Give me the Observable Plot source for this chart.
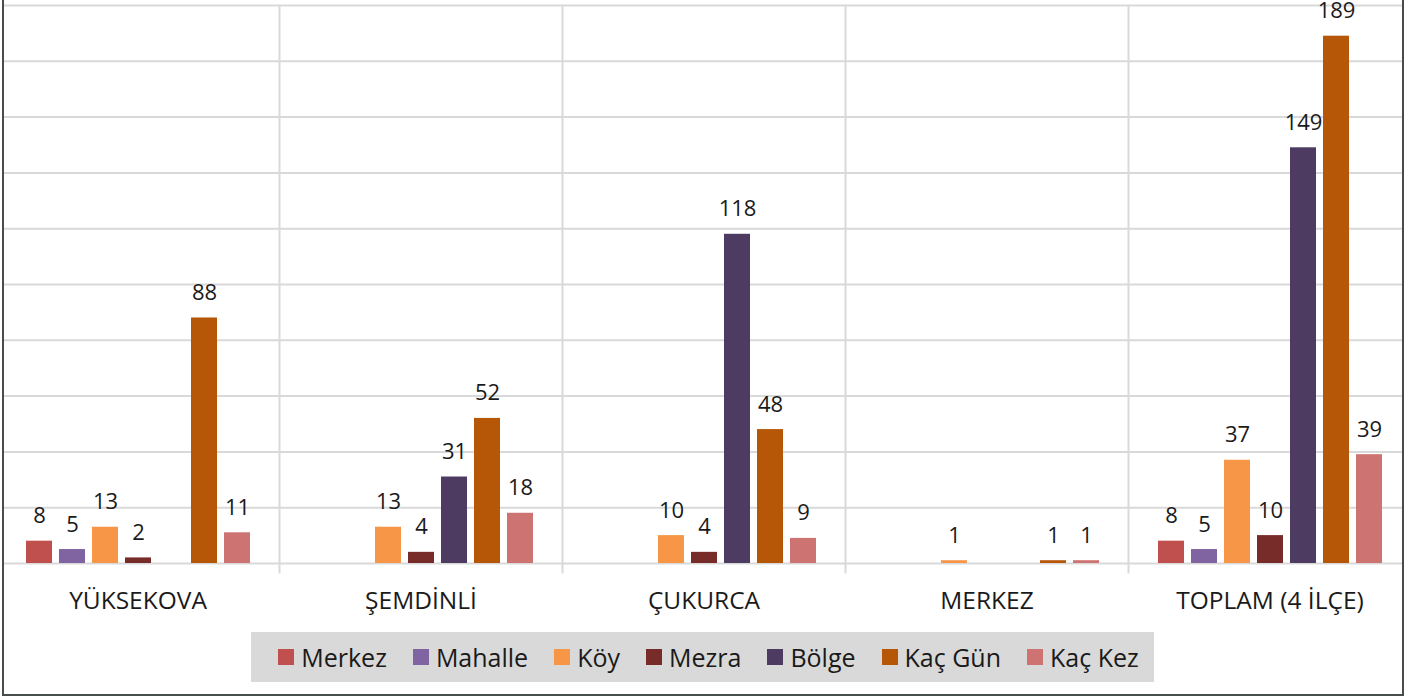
<!DOCTYPE html>
<html>
<head>
<meta charset="utf-8">
<script src="https://cdn.jsdelivr.net/npm/d3@7"></script>
<script src="https://cdn.jsdelivr.net/npm/@observablehq/plot@0.6"></script>
<style>
  html, body { margin: 0; padding: 0; background: #fff; }
  #chart { position: relative; width: 1408px; height: 699px; overflow: hidden; background: #fff; font-family: "Open Sans", sans-serif; }
  #frame { position: absolute; left: 2px; top: -2px; width: 1402px; height: 698px; box-sizing: border-box; border: 2px solid #474c4c; overflow: hidden; }
  #plot { position: absolute; left: -10px; top: 0px; width: 1418px; }
  #plot svg { display: block; overflow: visible; max-width: none !important; width: 1418px; }
  #legend { position: absolute; left: 247px; top: 632px; width: 903px; height: 50px; background: #d9d9d9; box-sizing: border-box; padding-left: 12px;
            display: flex; align-items: center; justify-content: center; gap: 26px; }
  .item { display: flex; align-items: center; gap: 7px; font-size: 25px; color: #1a1a1a; line-height: 1; }
  .sw { width: 16px; height: 16px; display: inline-block; }
</style>
</head>
<body>
<div id="chart">
  <div id="frame">
    <div id="plot"></div>
    <div id="legend"></div>
  </div>
</div>
<script>
const groups = ["YÜKSEKOVA", "ŞEMDİNLİ", "ÇUKURCA", "MERKEZ", "TOPLAM (4 İLÇE)"];
const seriesNames = ["Merkez", "Mahalle", "Köy", "Mezra", "Bölge", "Kaç Gün", "Kaç Kez"];
const colors = ["#c0504d", "#8064a2", "#f79646", "#772c2a", "#4d3b62", "#b65708", "#cd7371"];

// values per series, one entry per group (null = no bar)
const merkez  = [8,    null, null, null, 8];
const mahalle = [5,    null, null, null, 5];
const koy     = [13,   13,   10,   1,    37];
const mezra   = [2,    4,    4,    null, 10];
const bolge   = [null, 31,   118,  null, 149];
const kacGun  = [88,   52,   48,   1,    189];
const kacKez  = [11,   18,   9,    1,    39];

const yTicks = [0, 20, 40, 60, 80, 100, 120, 140, 160, 180, 200];

const seriesValues = [merkez, mahalle, koy, mezra, bolge, kacGun, kacKez];
const data = [];
seriesNames.forEach((s, i) => {
  groups.forEach((g, j) => {
    const v = seriesValues[i][j];
    if (v != null && v !== 0) data.push({group: g, series: s, value: v});
  });
});

const W = 1418;
const chart = Plot.plot({
  width: W,
  height: 620,
  marginTop: 5,
  marginBottom: 57,
  marginLeft: 0,
  marginRight: 0,
  style: {fontFamily: "'Open Sans', sans-serif", background: "transparent", overflow: "visible"},
  fx: {domain: groups, padding: 0, axis: null},
  x: {domain: seriesNames, paddingInner: 0.22, paddingOuter: 0.87, axis: null},
  y: {domain: [0, 200], axis: null},
  color: {domain: seriesNames, range: colors},
  marks: [
    Plot.ruleY(yTicks, {stroke: "#d9d9d9", strokeWidth: 2}),
    Plot.frame({anchor: "left", stroke: "#d9d9d9", strokeWidth: 2, insetBottom: -9}),
    Plot.barY(data, {fx: "group", x: "series", y: "value", fill: "series"}),
    Plot.text(data, {fx: "group", x: "series", y: "value", text: d => String(d.value),
      lineAnchor: "bottom", dy: -18, fontSize: 22, fill: "#1a1a1a"}),
    Plot.text(groups, {fx: d => d, text: d => d, frameAnchor: "bottom", lineAnchor: "bottom",
      dy: 45, fontSize: 24.5, fill: "#1a1a1a"})
  ]
});
document.getElementById("plot").appendChild(chart);

const legend = document.getElementById("legend");
seriesNames.forEach((s, i) => {
  const item = document.createElement("div");
  item.className = "item";
  const sw = document.createElement("span");
  sw.className = "sw";
  sw.style.background = colors[i];
  const t = document.createElement("span");
  t.textContent = s;
  item.appendChild(sw);
  item.appendChild(t);
  legend.appendChild(item);
});
</script>
</body>
</html>
